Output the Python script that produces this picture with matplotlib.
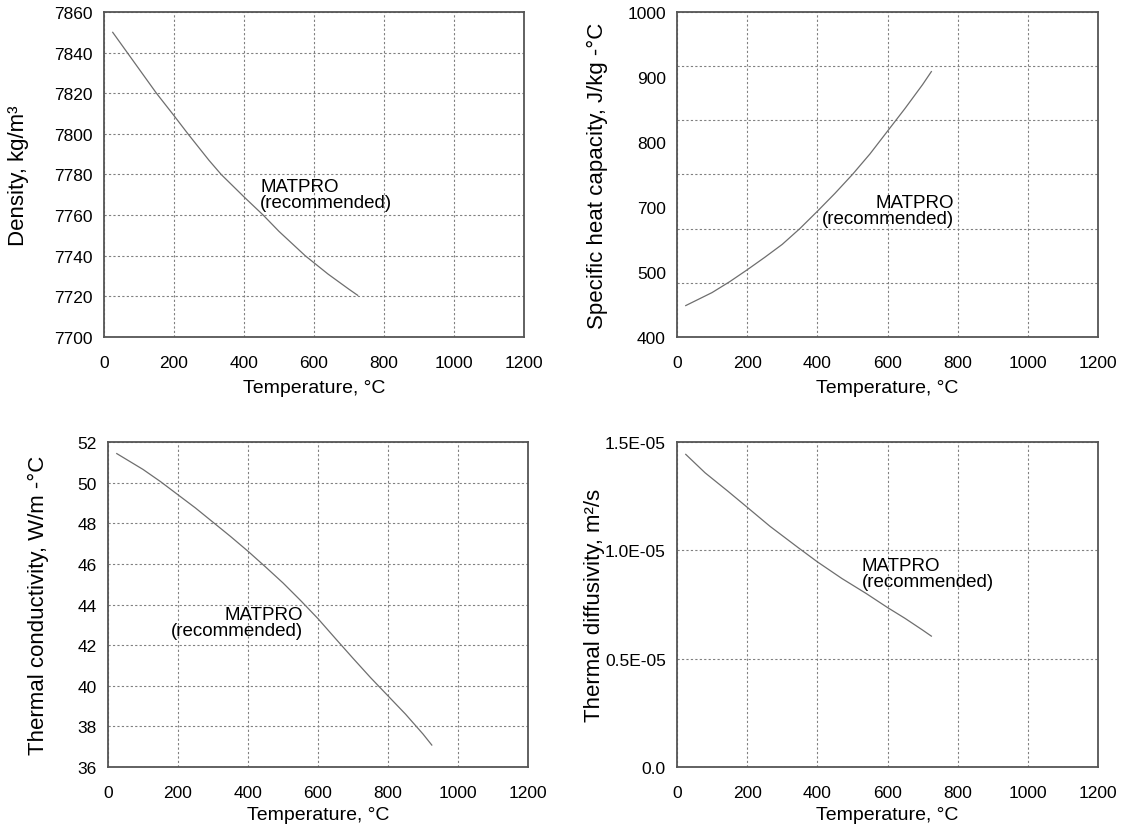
import numpy as np
import matplotlib
matplotlib.use("Agg")
import matplotlib.pyplot as plt

plt.rcParams['font.family'] = ['Liberation Sans', 'DejaVu Sans']

# valeurs (MATPRO, acier)
temp_rho = [25, 100, 150, 200, 240, 300, 335, 400, 455, 500, 575, 640, 700, 725]
rho = [7850, 7832, 7820, 7809, 7800, 7787, 7780, 7769, 7760, 7752, 7740, 7731, 7723.5, 7720.5]

temp_cp = [25, 50, 100, 150, 200, 250, 300, 350, 400, 450, 500, 550, 600, 650, 700, 725]
cp = [458, 466, 482, 502, 524, 547, 571, 600, 632, 665, 700, 738, 780, 822, 866, 890]
cp_grid = [400, 500, 600, 700, 800, 900, 1000]
cp_tick_labels = ['1000', '900', '800', '700', '500', '400']

temp_k = [25, 100, 150, 200, 250, 300, 350, 400, 450, 500, 550, 600, 650, 700, 750, 800, 850, 900, 925]
k = [51.43, 50.65, 50.05, 49.4, 48.75, 48.05, 47.35, 46.62, 45.85, 45.06, 44.2, 43.3, 42.32,
     41.35, 40.4, 39.5, 38.6, 37.62, 37.08]

temp_alpha = [25, 80, 145, 200, 265, 345, 400, 470, 540, 600, 650, 700, 725]
alpha = [1.443e-5, 1.358e-5, 1.273e-5, 1.199e-5, 1.111e-5, 1.013e-5, 0.947e-5, 0.870e-5,
         0.800e-5, 0.736e-5, 0.686e-5, 0.632e-5, 0.604e-5]
alpha_ticks = [0.0, 0.5e-5, 1.0e-5, 1.5e-5]
alpha_tick_labels = ['0.0', '0.5E-05', '1.0E-05', '1.5E-05']

temp_ticks = [0, 200, 400, 600, 800, 1000, 1200]

fig = plt.figure(figsize=(11.3, 8.29), dpi=100)
ax_rho = fig.add_axes([0.0920, 0.5923, 0.3717, 0.392])
ax_cp = fig.add_axes([0.5991, 0.5923, 0.3726, 0.392])
ax_k = fig.add_axes([0.0956, 0.0736, 0.3717, 0.392])
ax_a = fig.add_axes([0.5991, 0.0736, 0.3726, 0.392])

courbe = dict(color='#6e6e6e', lw=0.9)
note = dict(fontsize=13.5, linespacing=0.95, color='black')

def habiller(ax, ylabel, lx, ly):
    ax.set_xlim(0, 1200)
    ax.set_xticks(temp_ticks)
    ax.grid(True, which='major', color='#808080', linestyle=(0, (2, 2)), lw=0.8)
    ax.tick_params(which='both', length=0, labelsize=12.5, pad=8)
    ax.tick_params(axis='x', pad=13)
    for s in ax.spines.values():
        s.set_color('#555555')
        s.set_linewidth(1.3)
    ax.set_xlabel('Temperature, °C', fontsize=14)
    ax.set_ylabel(ylabel, fontsize=16)
    ax.xaxis.set_label_coords(0.5, lx)
    ax.yaxis.set_label_coords(ly, 0.5)

# densite
ax_rho.plot(temp_rho, rho, **courbe)
ax_rho.set_ylim(7700, 7860)
ax_rho.set_yticks(np.arange(7700, 7861, 20))
habiller(ax_rho, 'Density, kg/m³', -0.128, -0.178)
ax_rho.text(446, 7770, 'MATPRO\n(recommended)', ha='left', va='center', **note)

# capacite thermique (etiquettes decalees comme dans l'original)
ax_cp.plot(temp_cp, cp, **courbe)
ax_cp.set_ylim(400, 1000)
ax_cp.set_yticks(cp_grid)
ax_cp.set_yticklabels([])
ax_cp.yaxis.remove_overlapping_locs = False
ax_cp.set_yticks(np.linspace(1000, 400, len(cp_tick_labels)), cp_tick_labels, minor=True)
habiller(ax_cp, 'Specific heat capacity, J/kg -°C', -0.128, -0.165)
ax_cp.text(789, 634, 'MATPRO\n(recommended)', ha='right', va='center', multialignment='right', **note)

# conductivite
ax_k.plot(temp_k, k, **courbe)
ax_k.set_ylim(36, 52)
ax_k.set_yticks(np.arange(36, 53, 2))
habiller(ax_k, 'Thermal conductivity, W/m -°C', -0.12, -0.140)
ax_k.text(556, 43.1, 'MATPRO\n(recommended)', ha='right', va='center', multialignment='right', **note)

# diffusivite
ax_a.plot(temp_alpha, alpha, **courbe)
ax_a.set_ylim(0, 1.5e-5)
ax_a.set_yticks(alpha_ticks, alpha_tick_labels)
habiller(ax_a, 'Thermal diffusivity, m²/s', -0.12, -0.171)
ax_a.text(527, 0.892e-5, 'MATPRO\n(recommended)', ha='left', va='center', **note)

fig.savefig('out.png', dpi=100)
